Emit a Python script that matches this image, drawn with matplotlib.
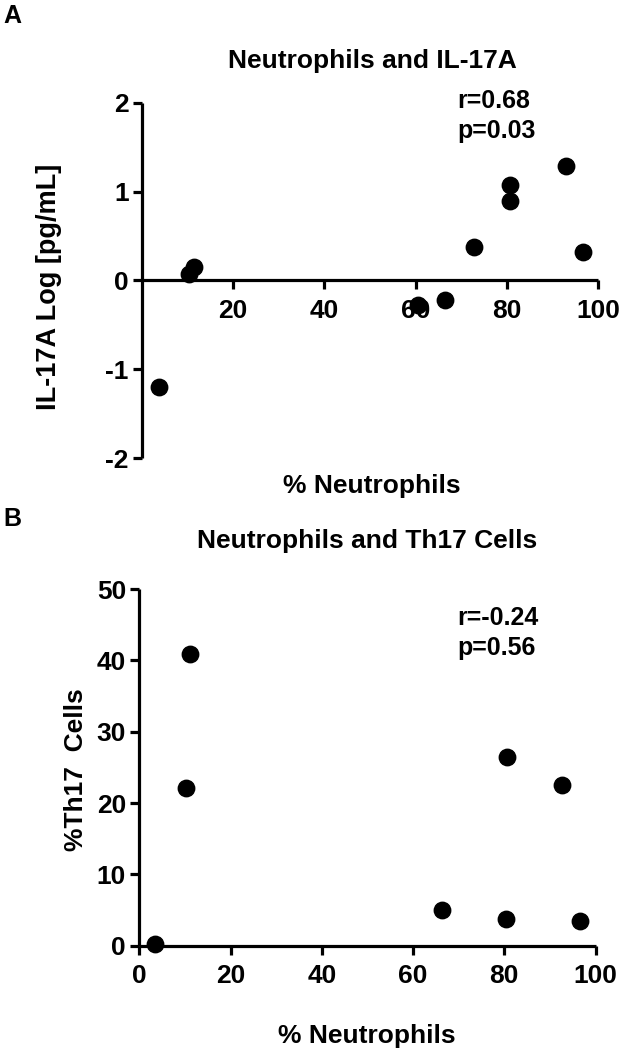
import matplotlib
matplotlib.use("Agg")
import matplotlib.pyplot as plt

plt.rcParams['font.family'] = ['Liberation Sans', 'DejaVu Sans']
plt.rcParams['font.weight'] = 'bold'
plt.rcParams['axes.unicode_minus'] = False

# Panel A: neutrophils vs IL-17A
neut_a = [3.8, 10.2, 11.5, 60.6, 66.4, 72.8, 80.6, 80.8, 92.9, 96.8]
il17a = [-1.20, 0.075, 0.15, -0.28, -0.22, 0.38, 1.07, 0.89, 1.29, 0.32]

# Panel B: neutrophils vs Th17 cells
neut_b = [3.4, 10.2, 11.1, 66.3, 80.3, 80.6, 92.7, 96.6]
th17 = [0.2, 22.1, 40.9, 5.0, 3.8, 26.4, 22.5, 3.4]

fig = plt.figure(figsize=(6.25, 10.53), dpi=100)

lw = 2.3
fs = 19


def style_axes(ax):
    for s in ['top', 'right']:
        ax.spines[s].set_visible(False)
    for s in ['left', 'bottom']:
        ax.spines[s].set_linewidth(lw)
        ax.spines[s].set_capstyle('butt')
    ax.tick_params(width=lw, length=6.5, labelsize=fs)
    ax.tick_params(axis='y', pad=3)
    ax.tick_params(axis='x', pad=7)
    for lab in ax.get_xticklabels() + ax.get_yticklabels():
        lab.set_fontweight('bold')


# --- A ---
ax1 = fig.add_axes([0.2272, 0.565, 0.7296, 0.3374])
ax1.scatter(neut_a, il17a, s=140, color='black', zorder=3, clip_on=False)
ax1.set_xlim(0, 100)
ax1.set_ylim(-2, 2)
ax1.spines['bottom'].set_position(('data', 0))
ax1.set_xticks([20, 40, 60, 80, 100])
ax1.set_yticks([-2, -1, 0, 1, 2])
style_axes(ax1)
ax1.text(0.505, 1.098, 'Neutrophils and IL-17A', transform=ax1.transAxes,
         ha='center', va='baseline', fontsize=fs, fontweight='bold')
ax1.set_ylabel('IL-17A Log [pg/mL]', fontsize=19.5, fontweight='bold')
ax1.yaxis.set_label_coords(-0.175, 0.481)
ax1.text(0.504, -0.0985, '% Neutrophils', transform=ax1.transAxes, ha='center',
         va='baseline', fontsize=fs, fontweight='bold')
ax1.text(0.691, 0.985, 'r=0.68', transform=ax1.transAxes, ha='left', va='baseline',
         fontsize=18, fontweight='bold')
ax1.text(0.691, 0.901, 'p=0.03', transform=ax1.transAxes, ha='left', va='baseline',
         fontsize=18, fontweight='bold')

# --- B ---
ax2 = fig.add_axes([0.2229, 0.1019, 0.730, 0.3387])
ax2.scatter(neut_b, th17, s=140, color='black', zorder=3, clip_on=False)
ax2.set_xlim(0, 100)
ax2.set_ylim(0, 50)
ax2.set_xticks([0, 20, 40, 60, 80, 100])
ax2.set_yticks([0, 10, 20, 30, 40, 50])
style_axes(ax2)
ax2.text(0.499, 1.115, 'Neutrophils and Th17 Cells', transform=ax2.transAxes,
         ha='center', va='baseline', fontsize=fs, fontweight='bold')
ax2.set_ylabel('%Th17  Cells', fontsize=fs, fontweight='bold')
ax2.yaxis.set_label_coords(-0.112, 0.493)
ax2.text(0.499, -0.273, '% Neutrophils', transform=ax2.transAxes, ha='center',
         va='baseline', fontsize=fs, fontweight='bold')
ax2.text(0.696, 0.899, 'r=-0.24', transform=ax2.transAxes, ha='left', va='baseline',
         fontsize=18, fontweight='bold')
ax2.text(0.696, 0.815, 'p=0.56', transform=ax2.transAxes, ha='left', va='baseline',
         fontsize=18, fontweight='bold')

fig.text(0.005, 1 - 23 / 1053, 'A', fontsize=18, fontweight='bold', ha='left', va='baseline')
fig.text(0.005, 1 - 526 / 1053, 'B', fontsize=18, fontweight='bold', ha='left', va='baseline')

fig.savefig('out.png', dpi=100)
